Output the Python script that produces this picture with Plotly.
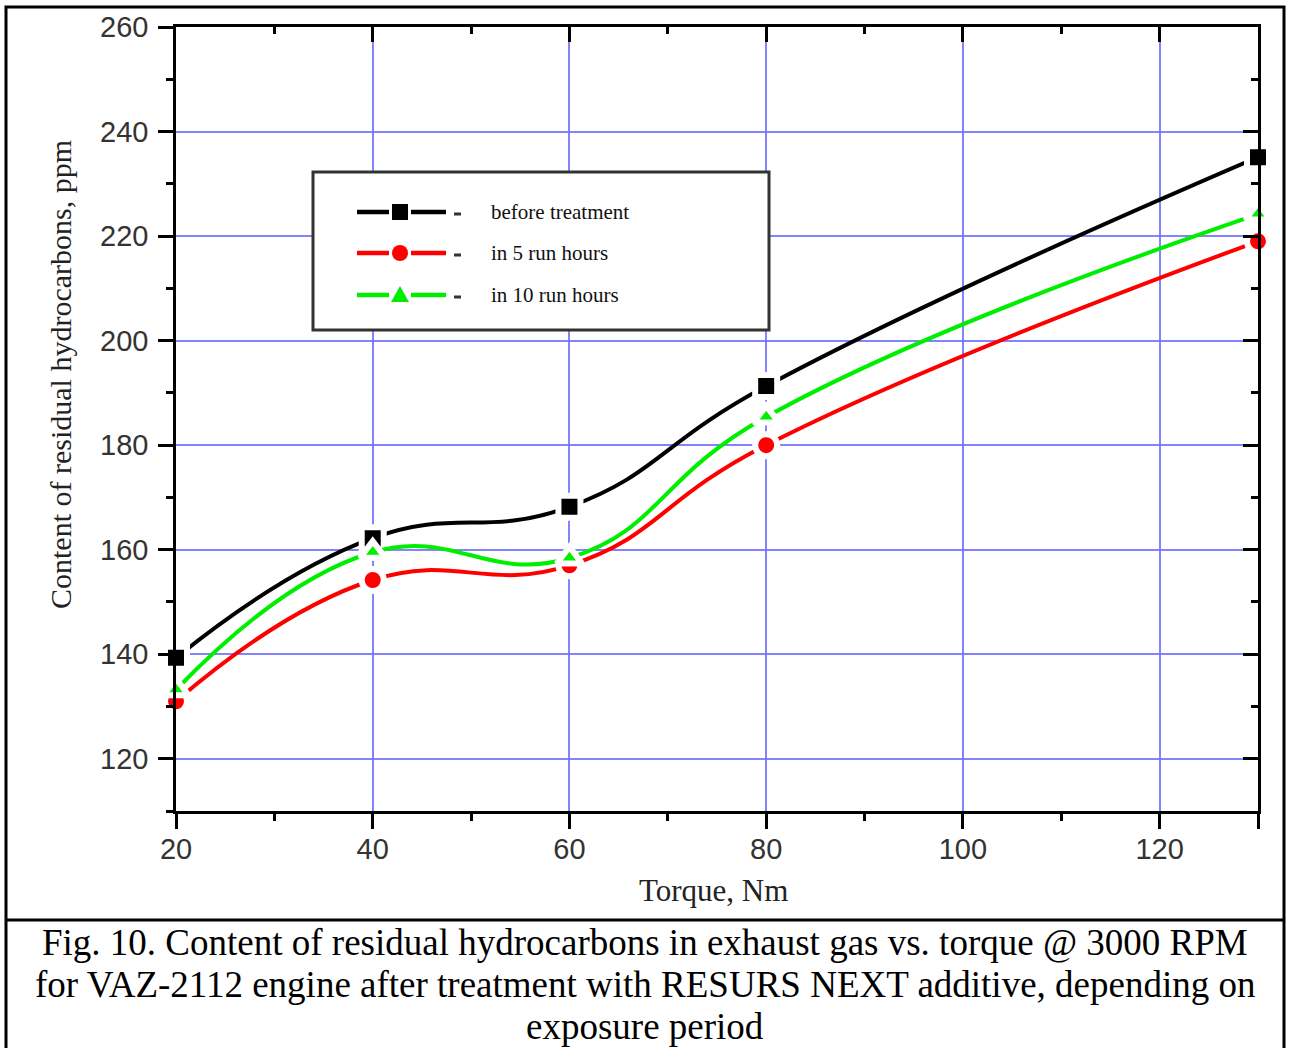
import plotly.graph_objects as go

torque = [20, 40, 60, 80, 130]
before_treatment = [139.3, 162.2, 168.2, 191.3, 235.1]
run_5h = [131.0, 154.2, 157.0, 180.0, 219.0]
run_10h = [133.2, 159.5, 158.4, 185.4, 224.2]

series_names = ["before treatment", "in 5 run hours", "in 10 run hours"]
series_colors = ["#000000", "#ff0000", "#00ee00"]
series_symbols = ["square", "circle", "triangle-up"]
series_values = [before_treatment, run_5h, run_10h]

x_ticks = [20, 40, 60, 80, 100, 120, 130]
x_ticktext = ["20", "40", "60", "80", "100", "120", ""]
x_minor = [30, 50, 70, 90, 110]
y_ticks = [120, 140, 160, 180, 200, 220, 240, 260]
y_minor = [110, 130, 150, 170, 190, 210, 230, 250]

x_title = "Torque, Nm"
y_title = "Content of residual hydrocarbons, ppm"
caption_lines = [
    "Fig. 10. Content of residual hydrocarbons in exhaust gas vs. torque @ 3000 RPM",
    "for VAZ-2112 engine after treatment with RESURS NEXT additive, depending on",
    "exposure period",
]

fig = go.Figure()
for name, vals, col, sym in zip(series_names, series_values, series_colors, series_symbols):
    fig.add_trace(go.Scatter(
        x=torque, y=vals, name=name, mode="lines+markers",
        line=dict(color=col, width=4, shape="spline", smoothing=1.3),
        marker=dict(symbol=sym, size=22, color=col, line=dict(color="white", width=6)),
        cliponaxis=False, showlegend=False,
    ))

# invisible trace for the mirrored axes
fig.add_trace(go.Scatter(x=[torque[0]], y=[before_treatment[0]], xaxis="x2", yaxis="y2",
                         mode="markers", marker=dict(opacity=0), showlegend=False, hoverinfo="skip"))

W, H = 1292, 1048
L, R, T, B = 176, 34, 27, 237
pw, ph = W - L - R, H - T - B

def px(xp):
    return (xp - L) / pw

def py(yp):
    return (H - B - yp) / ph

tickfont = dict(family="Liberation Sans, Arial", size=29, color="#333333")
grid = "rgba(110,110,255,0.85)"
ax_common = dict(tickcolor="black", tickwidth=2.5, showline=True, linecolor="black", linewidth=2.5,
                 zeroline=False)

fig.update_layout(
    width=W, height=H,
    margin=dict(l=L, r=R, t=T, b=B),
    paper_bgcolor="white", plot_bgcolor="white",
    showlegend=False,
    xaxis=dict(range=[20, 130], tickvals=x_ticks, ticktext=x_ticktext, ticks="outside", ticklen=15,
               showgrid=True, gridcolor=grid, gridwidth=1.5, tickfont=tickfont, ticklabelstandoff=-5,
               minor=dict(tickvals=x_minor, ticks="outside", ticklen=7, tickwidth=2.5,
                          tickcolor="black", showgrid=False), **ax_common),
    yaxis=dict(range=[110, 260], tickvals=y_ticks, ticks="outside", ticklen=15,
               showgrid=True, gridcolor=grid, gridwidth=1.5, tickfont=tickfont, ticklabelstandoff=4,
               minor=dict(tickvals=y_minor, ticks="outside", ticklen=7, tickwidth=2.5,
                          tickcolor="black", showgrid=False), **ax_common),
    xaxis2=dict(range=[20, 130], overlaying="x", side="top", anchor="y2", tickvals=x_ticks[:-1],
                ticks="inside", ticklen=15, showticklabels=False, showgrid=False,
                minor=dict(tickvals=x_minor, ticks="inside", ticklen=7, tickwidth=2.5,
                           tickcolor="black"), **ax_common),
    yaxis2=dict(range=[110, 260], overlaying="y", side="right", anchor="x2", tickvals=y_ticks,
                ticks="inside", ticklen=15, showticklabels=False, showgrid=False,
                minor=dict(tickvals=y_minor[1:], ticks="inside", ticklen=7, tickwidth=2.5,
                           tickcolor="black"), **ax_common),
)

serif = "Liberation Serif, Times New Roman"
fig.add_annotation(text=x_title, xref="paper", yref="paper", x=px(713), y=py(890),
                   xanchor="center", yanchor="middle", showarrow=False,
                   font=dict(family=serif, size=31, color="#222222"))
fig.add_annotation(text=y_title, xref="paper", yref="paper", x=px(60), y=py(375),
                   xanchor="center", yanchor="middle", textangle=-90, showarrow=False,
                   font=dict(family=serif, size=30, color="#222222"))
for line, yc in zip(caption_lines, [942, 984, 1026]):
    fig.add_annotation(text=line, xref="paper", yref="paper", x=px(645), y=py(yc),
                       xanchor="center", yanchor="middle", showarrow=False,
                       font=dict(family=serif, size=37, color="black"))

# frame (bottom edge lies beyond the page, as in the original crop)
fig.add_shape(type="rect", xref="paper", yref="paper", x0=px(6), x1=px(1284), y0=py(7), y1=py(1060),
              line=dict(color="black", width=3))
fig.add_shape(type="line", xref="paper", yref="paper", x0=px(6), x1=px(1284), y0=py(920), y1=py(920),
              line=dict(color="black", width=3))

# legend box (drawn by hand to match the original layout)
fig.add_shape(type="rect", xref="paper", yref="paper", x0=px(313), x1=px(769), y0=py(172), y1=py(330),
              line=dict(color="#333333", width=3), fillcolor="white", layer="above")
rows = [212, 253, 295]
for name, col, sym, yr in zip(series_names, series_colors, series_symbols, rows):
    for xa, xb in [(357, 389), (411, 446)]:
        fig.add_shape(type="line", xref="paper", yref="paper", x0=px(xa), x1=px(xb), y0=py(yr), y1=py(yr),
                      line=dict(color=col, width=4.5), layer="above")
    fig.add_shape(type="line", xref="paper", yref="paper", x0=px(454), x1=px(461), y0=py(yr + 2),
                  y1=py(yr + 2), line=dict(color="#333333", width=3), layer="above")
    if sym == "square":
        fig.add_shape(type="rect", xref="paper", yref="paper", x0=px(392), x1=px(408),
                      y0=py(yr - 8), y1=py(yr + 8), line=dict(width=0), fillcolor=col, layer="above")
    elif sym == "circle":
        fig.add_shape(type="circle", xref="paper", yref="paper", x0=px(392), x1=px(408),
                      y0=py(yr - 8), y1=py(yr + 8), line=dict(width=0), fillcolor=col, layer="above")
    else:
        path = "M {} {} L {} {} L {} {} Z".format(px(391), py(yr + 7), px(409), py(yr + 7),
                                                   px(400), py(yr - 9))
        fig.add_shape(type="path", xref="paper", yref="paper", path=path, line=dict(width=0),
                      fillcolor=col, layer="above")
    fig.add_annotation(text=name, xref="paper", yref="paper", x=px(489), y=py(yr),
                       xanchor="left", yanchor="middle", showarrow=False,
                       font=dict(family=serif, size=21, color="#111111"))

fig.write_html("out.html")
